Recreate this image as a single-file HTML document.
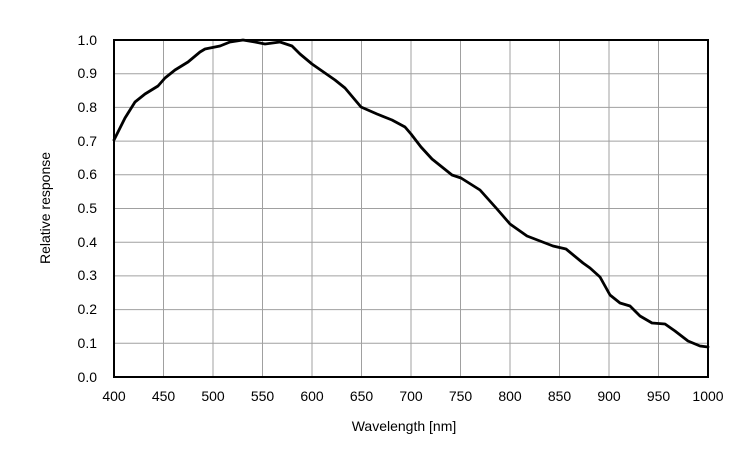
<!DOCTYPE html>
<html><head><style>
body{margin:0;background:#fff;width:750px;height:454px;overflow:hidden;font-family:"Liberation Sans",sans-serif}
</style></head><body>
<svg width="750" height="454" xmlns="http://www.w3.org/2000/svg" font-family="Liberation Sans, sans-serif" font-size="14" fill="#000">
<g stroke="#a0a0a0" stroke-width="1">
<line x1="163.5" y1="40" x2="163.5" y2="377"/><line x1="213" y1="40" x2="213" y2="377"/><line x1="262.5" y1="40" x2="262.5" y2="377"/><line x1="312" y1="40" x2="312" y2="377"/><line x1="361.5" y1="40" x2="361.5" y2="377"/><line x1="411" y1="40" x2="411" y2="377"/><line x1="460.5" y1="40" x2="460.5" y2="377"/><line x1="510" y1="40" x2="510" y2="377"/><line x1="559.5" y1="40" x2="559.5" y2="377"/><line x1="609" y1="40" x2="609" y2="377"/><line x1="658.5" y1="40" x2="658.5" y2="377"/>
<line x1="114" y1="73.7" x2="708" y2="73.7"/><line x1="114" y1="107.4" x2="708" y2="107.4"/><line x1="114" y1="141.1" x2="708" y2="141.1"/><line x1="114" y1="174.8" x2="708" y2="174.8"/><line x1="114" y1="208.5" x2="708" y2="208.5"/><line x1="114" y1="242.2" x2="708" y2="242.2"/><line x1="114" y1="275.9" x2="708" y2="275.9"/><line x1="114" y1="309.6" x2="708" y2="309.6"/><line x1="114" y1="343.3" x2="708" y2="343.3"/>
</g>
<rect x="114" y="40" width="594" height="337" fill="none" stroke="#000" stroke-width="2"/>
<polyline fill="none" stroke="#000" stroke-width="2.8" stroke-linejoin="round" stroke-linecap="round" points="114,140 125,118 135,102 145,94 158,86 165,78 175,70 188,62 200,52 205,49 220,46 230,42 243,40 255,42 265,44 280,42 292,46 300,54 312,64 335,80 345,88 361,107 377,114 392,120 405,127 411,134 421,147 432,159 452,175 461,178 480,190 497,209 510,224 527,236 553,246 566,249 583,263 590,268 600,277 610,295 620,303 630,306 640,316 652,323 665,324 675,331 688,341 700,346 708,347"/>
<g text-anchor="end">
<text x="97" y="45">1.0</text><text x="97" y="78">0.9</text><text x="97" y="112">0.8</text><text x="97" y="146">0.7</text><text x="97" y="179">0.6</text><text x="97" y="213">0.5</text><text x="97" y="247">0.4</text><text x="97" y="280">0.3</text><text x="97" y="314">0.2</text><text x="97" y="348">0.1</text><text x="97" y="382">0.0</text>
</g>
<g text-anchor="middle">
<text x="114" y="401">400</text><text x="163.5" y="401">450</text><text x="213" y="401">500</text><text x="262.5" y="401">550</text><text x="312" y="401">600</text><text x="361.5" y="401">650</text><text x="411" y="401">700</text><text x="460.5" y="401">750</text><text x="510" y="401">800</text><text x="559.5" y="401">850</text><text x="609" y="401">900</text><text x="658.5" y="401">950</text><text x="708" y="401">1000</text>
<text x="404" y="431">Wavelength [nm]</text>
<text transform="translate(50,208) rotate(-90)">Relative response</text>
</g>
</svg>
</body></html>
